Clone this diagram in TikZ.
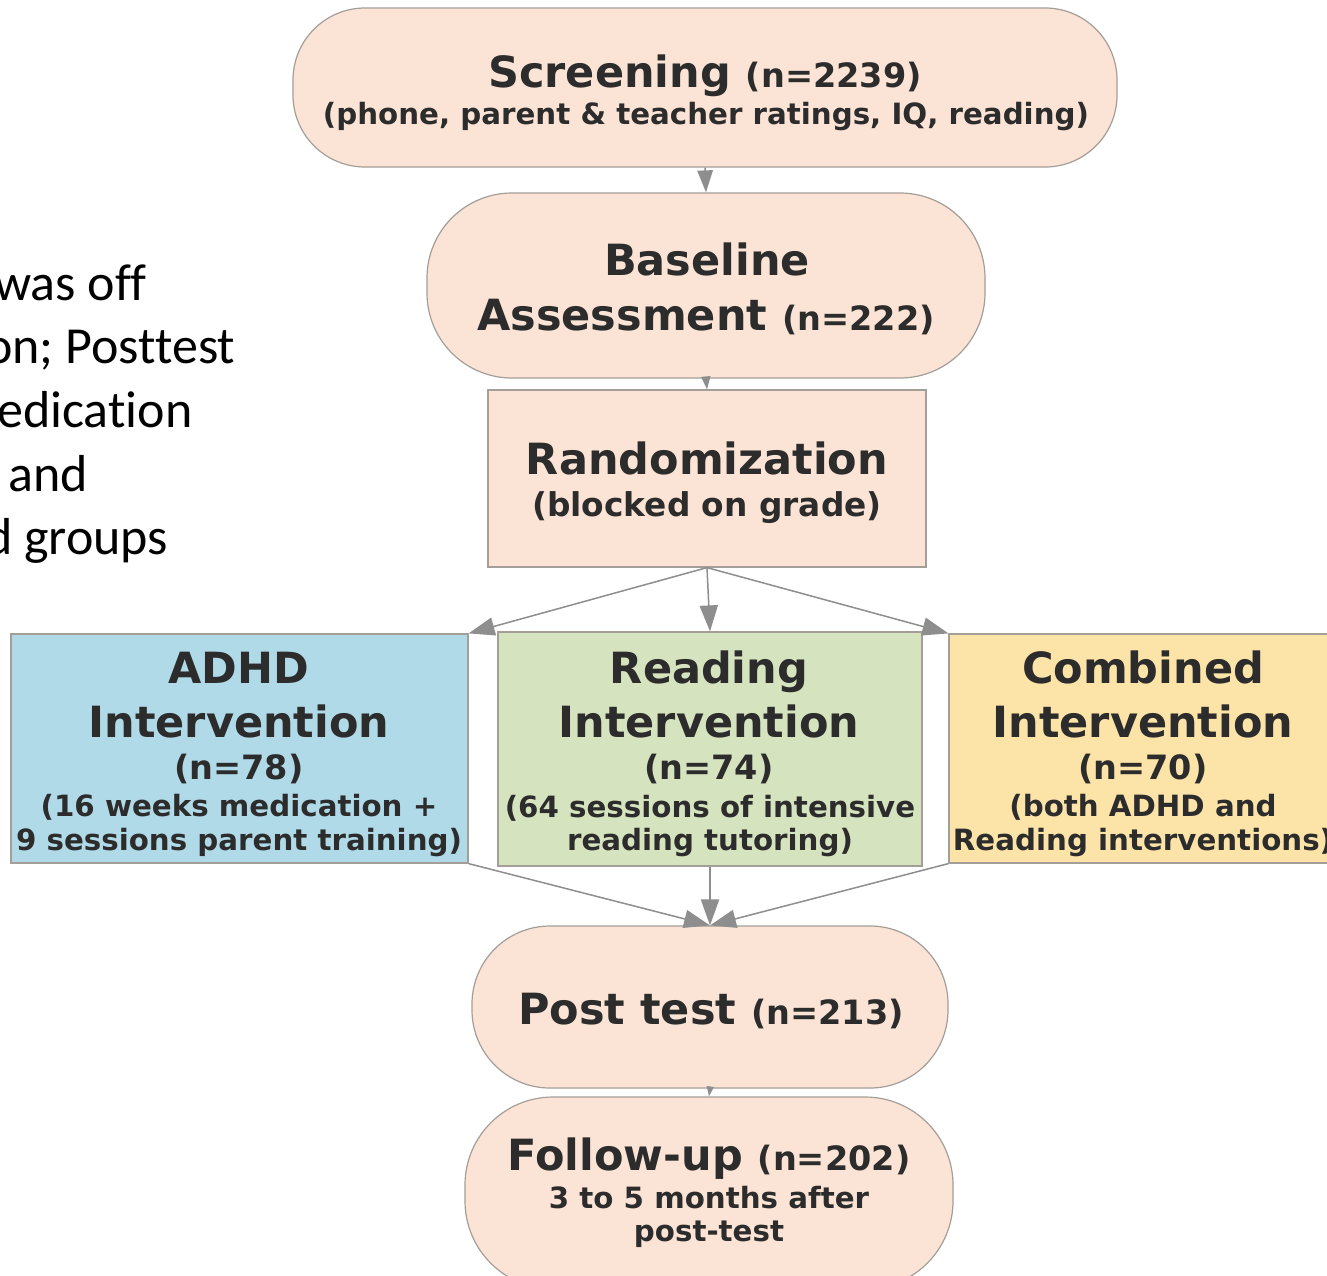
\documentclass[tikz,border=0pt]{standalone}
\usepackage{fontspec}
\setmainfont{DejaVu Sans}
\newfontfamily\calfont[Ligatures=NoCommon]{Carlito}
\usetikzlibrary{arrows.meta}
\definecolor{peach}{HTML}{FBE4D5}
\definecolor{bluebox}{HTML}{B0DAE7}
\definecolor{greenbox}{HTML}{D6E3BF}
\definecolor{yellowbox}{HTML}{FCE4A8}
\definecolor{edgec}{HTML}{A49E99}
\definecolor{arrowc}{HTML}{8E8E8E}
\definecolor{txt}{HTML}{2C2C2C}
\newcommand{\ttl}{\fontsize{43}{48}\selectfont\bfseries}
\newcommand{\nsz}{\fontsize{33.5}{38}\selectfont\bfseries}
\newcommand{\dsz}{\fontsize{29.3}{34}\selectfont\bfseries}
\begin{document}
\begin{tikzpicture}[x=1pt,y=-1pt,
  boxbase/.style={draw=edgec, line width=1.2pt, inner sep=0pt},
  pill/.style={boxbase, fill=peach, rounded corners=#1},
  rectbox/.style={boxbase, fill=#1},
  lab/.style={anchor=base, inner sep=0pt, text=txt},
  conn/.style={draw=arrowc, line width=1.5pt, -{Triangle[length=#1, width=0.7*#1]}},
  side/.style={anchor=base west, inner sep=0pt, font=\calfont\fontsize{52}{60}\selectfont, text=black}]
\useasboundingbox (0,0) rectangle (1327,1275);
\clip (0,0) rectangle (1327,1275);
\fill[white] (0,0) rectangle (1327,1275);

% left fragment text
\node[side] (s1) at (-6,300) {was off};
\node[side] (s2) at (-15,363) {on; Posttest};
\node[side] (s3) at (-3,427) {edication};
\node[side] (s4) at (8,491) {and};
\node[side] (s5) at (-15,554) {d groups};

% boxes
\node[pill=72pt, minimum width=824pt, minimum height=159pt] (screen) at (705,87.5) {};
\node[pill=85pt, minimum width=558pt, minimum height=185pt] (base) at (706,285.5) {};
\node[rectbox=peach, minimum width=438pt, minimum height=177pt] (rand) at (707,478.5) {};
\node[rectbox=bluebox, minimum width=457pt, minimum height=229pt] (adhd) at (239.5,748.5) {};
\node[rectbox=greenbox, minimum width=424pt, minimum height=234pt] (read) at (710,749) {};
\node[rectbox=yellowbox, minimum width=390pt, minimum height=229pt] (comb) at (1144,748.5) {};
\node[pill=78pt, minimum width=476pt, minimum height=162pt] (post) at (710,1007) {};
\node[pill=88pt, minimum width=488pt, minimum height=192pt] (follow) at (709,1193) {};

% texts
\node[lab] (t1a) at (705,87) {\ttl Screening {\nsz (n=2239)}};
\node[lab] (t1b) at (706,124) {\dsz (phone, parent \& teacher ratings, IQ, reading)};
\node[lab] (t2a) at (707,275) {\ttl Baseline};
\node[lab] (t2b) at (706,330) {\ttl Assessment {\nsz (n=222)}};
\node[lab] (t3a) at (707,474) {\ttl Randomization};
\node[lab] (t3b) at (707,516) {\fontsize{32.8}{36}\selectfont\bfseries (blocked on grade)};

\node[lab] (t4a) at (239,683) {\ttl ADHD};
\node[lab] (t4b) at (239,737) {\ttl Intervention};
\node[lab] (t4c) at (239,779) {\nsz (n=78)};
\node[lab] (t4d) at (239,816) {\dsz (16 weeks medication +};
\node[lab] (t4e) at (239,850) {\dsz 9 sessions parent training)};

\node[lab] (t5a) at (709,683) {\ttl Reading};
\node[lab] (t5b) at (709,737) {\ttl Intervention};
\node[lab] (t5c) at (709,779) {\nsz (n=74)};
\node[lab] (t5d) at (710,817) {\dsz (64 sessions of intensive};
\node[lab] (t5e) at (710,850) {\dsz reading tutoring)};

\node[lab] (t6a) at (1143,683) {\ttl Combined};
\node[lab] (t6b) at (1143,737) {\ttl Intervention};
\node[lab] (t6c) at (1143,779) {\nsz (n=70)};
\node[lab] (t6d) at (1143,816) {\dsz (both ADHD and};
\node[lab] (t6e) at (1143,850) {\dsz Reading interventions)};

\node[lab] (t7a) at (711,1024) {\ttl Post test {\nsz (n=213)}};
\node[lab] (t8a) at (709,1170) {\ttl Follow-up {\nsz (n=202)}};
\node[lab] (t8b) at (709,1208) {\dsz 3 to 5 months after};
\node[lab] (t8c) at (709,1241) {\dsz post-test};

% connectors
\draw[conn=22pt] (screen.south) -- (base.north);
\draw[conn=13pt] (base.south) -- (rand.north);
\draw[conn=26pt] (rand.south) -- (adhd.north east);
\draw[conn=26pt] (rand.south) -- (read.north);
\draw[conn=26pt] (rand.south) -- (comb.north west);
\draw[conn=26pt] (adhd.south east) -- (post.north);
\draw[conn=26pt] (read.south) -- (post.north);
\draw[conn=26pt] (comb.south west) -- (post.north);
\draw[conn=10pt] (post.south) -- (follow.north);
\end{tikzpicture}
\end{document}
